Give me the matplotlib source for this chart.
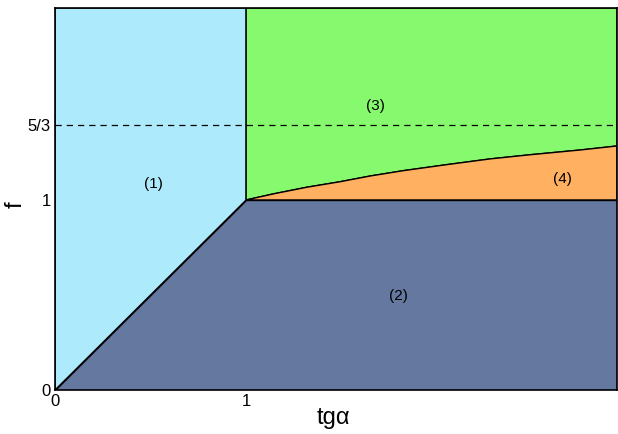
import matplotlib
matplotlib.use("Agg")
import matplotlib.pyplot as plt
import numpy as np

plt.rcParams['font.family'] = ['Liberation Sans', 'DejaVu Sans']

# schematic axes (plot coordinates)
x_max = 2.94
y_max = 2.01
y_53 = 1.395  # plotted position of the 5/3 level (schematic)

# boundary curve between region (3) and region (4)
curve_x = [1.0, 1.143, 1.318, 1.492, 1.649, 1.822, 2.051, 2.277, 2.487, 2.749, 2.94]
curve_y = [1.0, 1.032, 1.067, 1.096, 1.126, 1.154, 1.186, 1.216, 1.238, 1.263, 1.284]

region_labels = ['(1)', '(2)', '(3)', '(4)']
label_x = [0.513, 1.796, 1.675, 2.654]
label_y = [1.084, 0.495, 1.495, 1.11]

xtick_vals = [0, 1]
xtick_labels = ['0', '1']
ytick_vals = [0, 1, y_53]
ytick_labels = ['0', '1', '5/3']

c1 = '#ADEBFC'
c2 = '#6478A0'
c3 = '#87F96E'
c4 = '#FFB060'

fig = plt.figure(figsize=(6.18, 4.34), dpi=100)
ax = fig.add_axes([55/618, 44/434, 562/618, 382/434])

cx = np.array(curve_x)
cy = np.array(curve_y)

ax.fill([0, 1, 1, 0], [0, 1, y_max, y_max], facecolor=c1, edgecolor='black', lw=1, zorder=1)
ax.fill([0, x_max, x_max, 1], [0, 0, 1, 1], facecolor=c2, edgecolor='black', lw=1, zorder=1)
ax.fill(np.concatenate([cx, [x_max, 1]]), np.concatenate([cy, [y_max, y_max]]),
        facecolor=c3, edgecolor='black', lw=1, zorder=1)
ax.fill(np.concatenate([cx, [x_max, 1]]), np.concatenate([cy, [1, 1]]),
        facecolor=c4, edgecolor='black', lw=1, zorder=1)

ax.plot([0, x_max], [y_53, y_53], color='black', lw=0.9, ls=(0, (5, 4)), zorder=2)

for t, xx, yy in zip(region_labels, label_x, label_y):
    ax.text(xx, yy, t, ha='center', va='center', fontsize=11, zorder=3)

ax.set_xlim(0, x_max)
ax.set_ylim(0, y_max)
ax.set_xticks(xtick_vals)
ax.set_xticklabels(xtick_labels)
ax.set_yticks(ytick_vals)
ax.set_yticklabels(ytick_labels)
ax.tick_params(length=0, labelsize=12, pad=3)
ax.set_xlabel('tgα', fontsize=17)
ax.set_ylabel('f', fontsize=17)
ax.xaxis.set_label_coords(0.495, -0.045)
ax.yaxis.set_label_coords(-0.05, 0.484)
for s in ax.spines.values():
    s.set_linewidth(1.2)

fig.savefig('out.png', dpi=100)
